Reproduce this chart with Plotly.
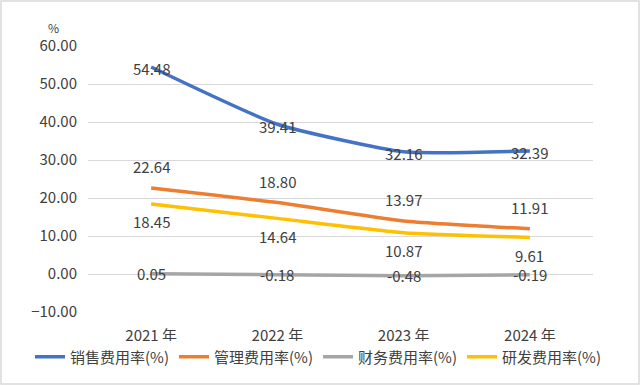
import plotly.graph_objects as go

years = ["2021 年", "2022 年", "2023 年", "2024 年"]
sales = [54.48, 39.41, 32.16, 32.39]
admin = [22.64, 18.80, 13.97, 11.91]
finance = [0.05, -0.18, -0.48, -0.19]
rnd = [18.45, 14.64, 10.87, 9.61]

names = ["销售费用率(%)", "管理费用率(%)", "财务费用率(%)", "研发费用率(%)"]
colors = ["#4472C4", "#ED7D31", "#A5A5A5", "#FFC000"]
label_shift = [-2, 21, 0, -18]   # vertical offset of data labels (px, up positive)
series = [sales, admin, finance, rnd]

FONT = "Noto Sans CJK SC"
TXT = "#404040"

fig = go.Figure()
for name, vals, col in zip(names, series, colors):
    fig.add_trace(go.Scatter(
        x=years, y=vals, name=name, mode="lines",
        line=dict(color=col, width=3.5, shape="spline", smoothing=0.5),
        hoverinfo="skip",
    ))

annotations = []
for vals, shift in zip(series, label_shift):
    for yr, v in zip(years, vals):
        annotations.append(dict(
            x=yr, y=v, xref="x", yref="y", text=f"{v:.2f}",
            showarrow=False, yshift=shift, xanchor="center", yanchor="middle",
            borderpad=0,
            font=dict(family=FONT, size=15, color=TXT)))

annotations.append(dict(text="%", xref="paper", yref="paper",
                        x=(53 - 88) / 505, y=(312 - 27) / 266,
                        xanchor="center", yanchor="middle", borderpad=0,
                        showarrow=False, font=dict(size=12, color=TXT)))

fig.update_layout(
    width=640, height=385,
    margin=dict(l=88, r=47, t=46, b=73, autoexpand=False),
    paper_bgcolor="white", plot_bgcolor="white",
    font=dict(family=FONT, size=15, color=TXT),
    xaxis=dict(showgrid=False, showline=False, zeroline=False, ticks="",
               range=[-0.5, 3.5], automargin=False,
               tickfont=dict(size=15, color=TXT), ticklabelstandoff=13),
    yaxis=dict(range=[-10, 60], dtick=10, tick0=0, tickformat=".2f",
               showgrid=True, gridcolor="#D9D9D9", gridwidth=1,
               zeroline=False, showline=False, ticks="", automargin=False,
               tickfont=dict(size=15, color=TXT), ticklabelstandoff=10),
    legend=dict(orientation="h", xref="paper", yref="paper",
                x=(30 - 88) / 505, y=(312 - 357) / 266,
                yanchor="middle", xanchor="left",
                font=dict(size=15, color=TXT),
                entrywidth=99, entrywidthmode="pixels",
                tracegroupgap=0),
    showlegend=True,
    annotations=annotations,
    shapes=[dict(type="rect", xref="paper", yref="paper",
                 x0=(1 - 88) / 505, x1=(639 - 88) / 505,
                 y0=(312 - 384) / 266, y1=(312 - 1) / 266,
                 line=dict(color="#D9D9D9", width=1.5))],
)

fig.write_html("out.html", config={"displayModeBar": False},
               post_script="document.body.style.margin='0';document.body.style.overflow='hidden';")
